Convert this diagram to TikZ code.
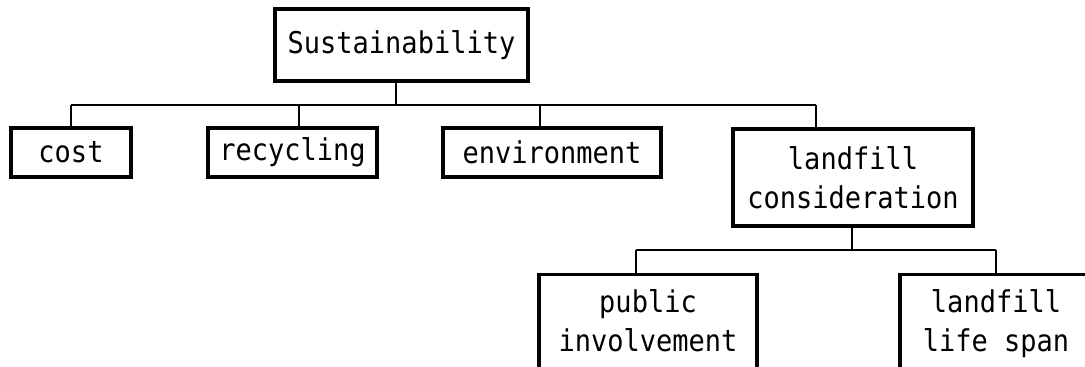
\documentclass[tikz,border=0pt]{standalone}
\usepackage{fontspec}
\newfontfamily\boxfont[FakeStretch=0.9]{DejaVu Sans Mono}
\begin{document}
\begin{tikzpicture}[x=0.5pt,y=-0.5pt,
  box/.style={draw,line width=1.7pt,inner sep=0pt,align=center,
    font={\fontsize{15}{19.5}\boxfont}},
  txt/.style={inner sep=0pt,align=center,font={\fontsize{15}{19.5}\boxfont}},
  link/.style={line width=0.7pt}]
\useasboundingbox (0,0) rectangle (1085,367);
\clip (0,0) rectangle (1085,367);
\fill[white] (0,0) rectangle (1085,367);

% top level
\node[box,minimum width=126.5pt,minimum height=36pt] (sus) at (401.5,45) {Sustainability};

% second level
\node[box,minimum width=60pt,minimum height=24.5pt] (cost) at (71,152.5) {cost};
\node[box,minimum width=84.5pt,minimum height=24.5pt] (recyc) at (292.5,152.5) {recycling};
\node[box,minimum width=109pt,minimum height=24.5pt] (env) at (552,152.5) {environment};
\node[box,minimum width=120pt,minimum height=48.5pt] (lfc) at (853,177.5) {landfill\\consideration};

% third level (boxes run off the page)
\node[box,anchor=north,minimum width=109pt,minimum height=70pt] (pub) at (648,273) {};
\node[txt] (pubtxt) at (648,320.5) {public\\involvement};
\node[box,anchor=north,minimum width=96pt,minimum height=70pt] (lls) at (996,273) {};
\node[txt] (llstxt) at (996,323.5) {landfill\\life span};

% connectors
\coordinate (hub) at (396,105);
\draw[link] (sus.south -| hub) -- (hub);
\draw[link] (71,105) coordinate (busL) -- (816,105) coordinate (busR);
\foreach \n/\x in {cost/71,recyc/299,env/540,lfc/816}
  \draw[link] (\x,105) -- (\n.north -| \x,105);

\coordinate (subhub) at (852,250);
\draw[link] (lfc.south -| subhub) -- (subhub);
\draw[link] (636,250) coordinate (subL) -- (996,250) coordinate (subR);
\foreach \n/\x in {pub/636,lls/996}
  \draw[link] (\x,250) -- (\n.north -| \x,250);
\end{tikzpicture}
\end{document}
